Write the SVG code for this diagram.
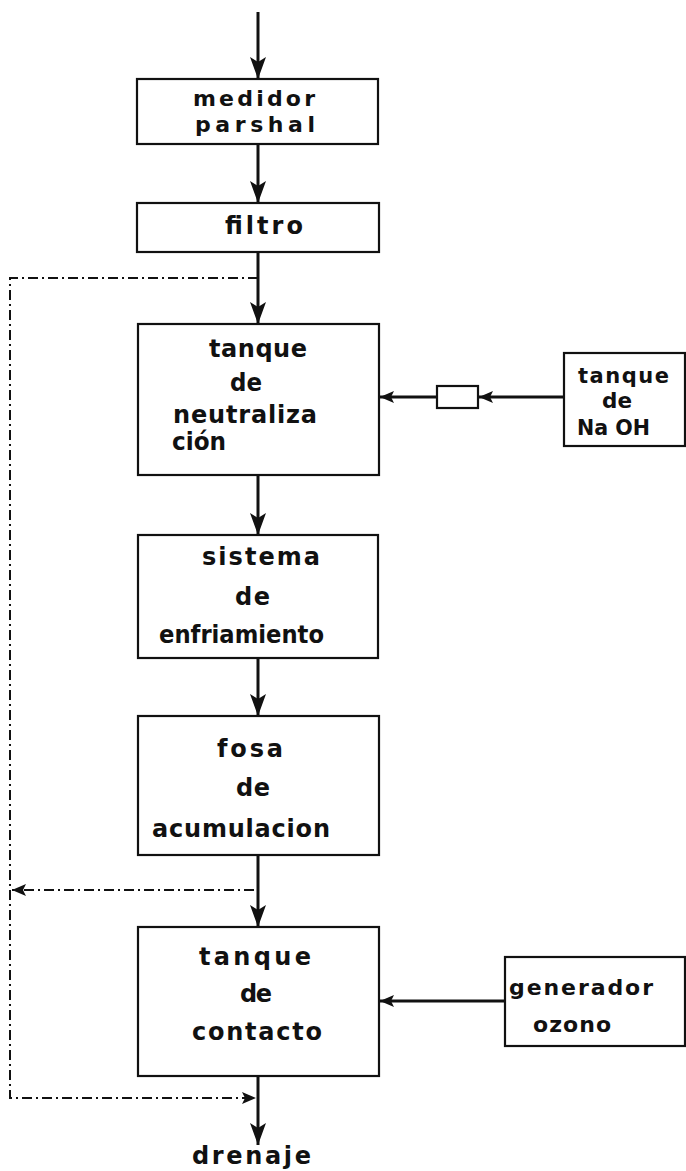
<svg xmlns="http://www.w3.org/2000/svg" width="686" height="1171" viewBox="0 0 686 1171">
<style>
.box{fill:#fff;stroke:#111;stroke-width:2.2}
.t{font-family:"DejaVu Sans","Liberation Sans",sans-serif;font-size:24px;font-weight:bold;fill:#111;text-anchor:start}
.s{font-size:21px}
.m{font-size:22px}
.flow{stroke:#111;stroke-width:3;fill:none}
.dash{stroke:#111;stroke-width:2;fill:none;stroke-dasharray:10 4 2 4}
</style>
<defs>
<marker id="ah" markerUnits="userSpaceOnUse" markerWidth="24" markerHeight="18" refX="22" refY="8" orient="auto">
<path d="M0,0 L22,8 L0,16 L5,8 Z" fill="#111"/>
</marker>
<marker id="ahs" markerUnits="userSpaceOnUse" markerWidth="16" markerHeight="14" refX="14" refY="6" orient="auto">
<path d="M0,0 L14,6 L0,12 L3,6 Z" fill="#111"/>
</marker>
</defs>
<rect width="686" height="1171" fill="#fff"/>
<g id="connectors">
<line class="flow" x1="258" y1="12" x2="258" y2="79" marker-end="url(#ah)"/>
<line class="flow" x1="258" y1="144" x2="258" y2="203" marker-end="url(#ah)"/>
<line class="flow" x1="258" y1="252" x2="258" y2="324" marker-end="url(#ah)"/>
<line class="flow" x1="258" y1="475" x2="258" y2="535" marker-end="url(#ah)"/>
<line class="flow" x1="258" y1="658" x2="258" y2="716" marker-end="url(#ah)"/>
<line class="flow" x1="258" y1="855" x2="258" y2="927" marker-end="url(#ah)"/>
<line class="flow" x1="258" y1="1076" x2="258" y2="1145" marker-end="url(#ah)"/>
<line class="flow" x1="564" y1="397" x2="479" y2="397" marker-end="url(#ahs)"/>
<rect class="box" x="437" y="386" width="41" height="22"/>
<line class="flow" x1="437" y1="397" x2="380" y2="397" marker-end="url(#ahs)"/>
<line class="flow" x1="505" y1="1001" x2="380" y2="1001" marker-end="url(#ahs)"/>
<polyline class="dash" points="258,278 10,278 10,1098 256,1098" marker-end="url(#ahs)"/>
<line class="dash" x1="254" y1="890" x2="12" y2="890" marker-end="url(#ahs)"/>
</g>
<g id="medidor">
<rect class="box" x="137" y="79" width="241" height="65"/>
<text class="t m" x="193" y="106" textLength="122" lengthAdjust="spacing">medidor</text>
<text class="t m" x="195" y="132" textLength="120" lengthAdjust="spacing">parshal</text>
</g>
<g id="filtro">
<rect class="box" x="137" y="203" width="242" height="49"/>
<text class="t" x="225" y="234" textLength="78" lengthAdjust="spacing">filtro</text>
</g>
<g id="neutralizacion">
<rect class="box" x="138" y="324" width="241" height="151"/>
<text class="t" x="209" y="357" textLength="98" lengthAdjust="spacing">tanque</text>
<text class="t" x="230" y="391" textLength="32" lengthAdjust="spacingAndGlyphs">de</text>
<text class="t" x="173" y="423" textLength="144" lengthAdjust="spacing">neutraliza</text>
<text class="t" x="172" y="450" textLength="54" lengthAdjust="spacingAndGlyphs">ción</text>
</g>
<g id="naoh">
<rect class="box" x="564" y="353" width="121" height="93"/>
<text class="t s" x="578" y="383" textLength="91" lengthAdjust="spacing">tanque</text>
<text class="t s" x="602" y="408" textLength="30" lengthAdjust="spacingAndGlyphs">de</text>
<text class="t s" x="577" y="435" textLength="73" lengthAdjust="spacingAndGlyphs">Na OH</text>
</g>
<g id="enfriamiento">
<rect class="box" x="138" y="535" width="240" height="123"/>
<text class="t" x="202" y="565" textLength="118" lengthAdjust="spacing">sistema</text>
<text class="t" x="235" y="605" textLength="35" lengthAdjust="spacing">de</text>
<text class="t" x="159" y="643" textLength="165" lengthAdjust="spacingAndGlyphs">enfriamiento</text>
</g>
<g id="fosa">
<rect class="box" x="138" y="716" width="241" height="139"/>
<text class="t" x="217" y="757" textLength="66" lengthAdjust="spacing">fosa</text>
<text class="t" x="236" y="796" textLength="34" lengthAdjust="spacing">de</text>
<text class="t" x="152" y="837" textLength="178" lengthAdjust="spacing">acumulacion</text>
</g>
<g id="contacto">
<rect class="box" x="138" y="927" width="241" height="149"/>
<text class="t" x="199" y="965" textLength="112" lengthAdjust="spacing">tanque</text>
<text class="t" x="240" y="1002" textLength="32" lengthAdjust="spacing">de</text>
<text class="t" x="192" y="1040" textLength="130" lengthAdjust="spacing">contacto</text>
</g>
<g id="generador">
<rect class="box" x="505" y="957" width="180" height="89"/>
<text class="t m" x="509" y="995" textLength="144" lengthAdjust="spacing">generador</text>
<text class="t m" x="533" y="1032" textLength="78" lengthAdjust="spacing">ozono</text>
</g>
<g id="drenaje">
<text class="t" x="192" y="1164" textLength="119" lengthAdjust="spacing">drenaje</text>
</g>
</svg>
